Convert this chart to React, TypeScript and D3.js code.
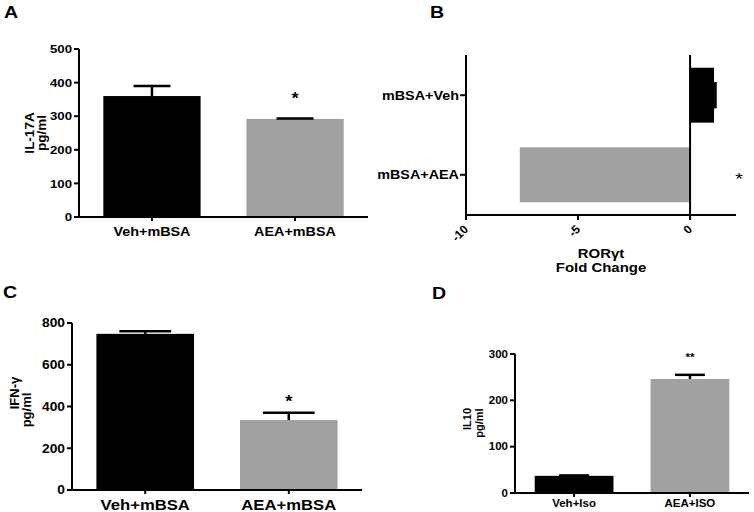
import * as d3 from 'd3';

// panel A – IL-17A
const catsA = ['Veh+mBSA', 'AEA+mBSA'];
const il17 = [360, 292];
const il17Err = [30, 1];
const ticksA = [0, 100, 200, 300, 400, 500];

// panel B – RORγt fold change
const catsB = ['mBSA+Veh', 'mBSA+AEA'];
const rorFold = [1.07, -7.6];
const rorErr = [0.12, 0];
const ticksB = [-10, -5, 0];

// panel C – IFN-γ
const catsC = ['Veh+mBSA', 'AEA+mBSA'];
const ifng = [748, 335];
const ifngErr = [13, 35];
const ticksC = [0, 200, 400, 600, 800];

// panel D – IL10
const catsD = ['Veh+Iso', 'AEA+ISO'];
const il10 = [37, 246];
const il10Err = [1, 9];
const ticksD = [0, 100, 200, 300];

const barColors = ['#000000', '#a1a1a1'];
const FONT = 'Arial, "Liberation Sans", Helvetica, sans-serif';
const SX = 1.15; // source picture is a bit stretched sideways

const T = ({ x, y, size, anchor = 'start', children, weight = 'bold', sx = SX }: any) => (
  <text
    transform={`translate(${x},${y}) scale(${sx},1)`}
    fontSize={size}
    fontWeight={weight}
    fontFamily={FONT}
    textAnchor={anchor}
    fill="#000"
  >
    {children}
  </text>
);

const VLabel = ({ x, y, size, children }: any) => (
  <text
    transform={`translate(${x},${y}) rotate(-90)`}
    fontSize={size}
    fontWeight="bold"
    fontFamily={FONT}
    textAnchor="middle"
    fill="#000"
  >
    {children}
  </text>
);

interface VPanelProps {
  x0: number; x1: number; y0: number; y1: number;
  max: number; ticks: number[]; cats: string[]; values: number[]; errs: number[];
  cap: number; tickFont: number; catFont: number; catDy: number;
  sig: string; sigValue: number; sigFont: number; sigIdx: number;
}

function VPanel(p: VPanelProps) {
  const y = d3.scaleLinear().domain([0, p.max]).range([p.y1, p.y0]);
  const x = d3.scaleBand().domain(p.cats).range([p.x0, p.x1]).paddingInner(0.32).paddingOuter(0.17);
  const bw = x.bandwidth();
  return (
    <g>
      {p.cats.map((c, i) => {
        const cx = x(c)! + bw / 2;
        const v = p.values[i];
        const e = p.errs[i];
        return (
          <g key={c}>
            <rect x={x(c)} y={y(v)} width={bw} height={y(0) - y(v)} fill={barColors[i]} />
            <line x1={cx} x2={cx} y1={y(v)} y2={y(v + e)} stroke="#000" strokeWidth={2.5} />
            <line x1={cx - (bw * p.cap) / 2} x2={cx + (bw * p.cap) / 2} y1={y(v + e)} y2={y(v + e)} stroke="#000" strokeWidth={2.5} />
            <line x1={cx} x2={cx} y1={p.y1} y2={p.y1 + 4} stroke="#000" strokeWidth={2} />
            <T x={cx} y={p.y1 + p.catDy} size={p.catFont} anchor="middle">{c}</T>
          </g>
        );
      })}
      <line x1={p.x0} x2={p.x0} y1={p.y0} y2={p.y1 + 1} stroke="#000" strokeWidth={2} />
      <line x1={p.x0 - 1} x2={p.x1} y1={p.y1} y2={p.y1} stroke="#000" strokeWidth={2} />
      {p.ticks.map((t) => (
        <g key={t}>
          <line x1={p.x0 - 5} x2={p.x0} y1={y(t)} y2={y(t)} stroke="#000" strokeWidth={2} />
          <T x={p.x0 - 7} y={y(t) + p.tickFont * 0.36} size={p.tickFont} anchor="end">{t}</T>
        </g>
      ))}
      <T
        x={x(p.cats[p.sigIdx])! + bw / 2}
        y={y(p.sigValue) + p.sigFont * 0.55}
        size={p.sigFont}
        anchor="middle"
      >
        {p.sig}
      </T>
    </g>
  );
}

function HPanel() {
  const x = d3.scaleLinear().domain([-10, 2.05]).range([466, 736]);
  const y = d3.scaleBand().domain(catsB).range([55, 215]).paddingInner(0.31).paddingOuter(0.16);
  const bw = y.bandwidth();
  return (
    <g>
      {catsB.map((c, i) => {
        const v = rorFold[i];
        const e = rorErr[i];
        const cy = y(c)! + bw / 2;
        return (
          <g key={c}>
            <rect x={x(Math.min(0, v))} y={y(c)} width={Math.abs(x(v) - x(0))} height={bw} fill={barColors[i]} />
            {e > 0 && (
              <rect x={x(v)} y={cy - bw * 0.24} width={x(v + e) - x(v)} height={bw * 0.48} fill="#000" />
            )}
            <line x1={460} x2={466} y1={cy} y2={cy} stroke="#000" strokeWidth={2} />
            <T x={459} y={cy + 4.5} size={12.5} anchor="end">{c}</T>
          </g>
        );
      })}
      <line x1={466} x2={466} y1={55} y2={220} stroke="#000" strokeWidth={2} />
      <line x1={x(0)} x2={x(0)} y1={55} y2={220} stroke="#000" strokeWidth={2} />
      <line x1={466} x2={736} y1={215} y2={215} stroke="#000" strokeWidth={2} />
      {ticksB.map((t) => (
        <g key={t}>
          <line x1={x(t)} x2={x(t)} y1={215} y2={220} stroke="#000" strokeWidth={2} />
          <text
            transform={`translate(${x(t) + 3},${230}) rotate(-45)`}
            fontSize={12}
            fontWeight="bold"
            fontFamily={FONT}
            textAnchor="end"
          >
            {t}
          </text>
        </g>
      ))}
      <T x={739} y={185} size={17} anchor="middle" weight="normal">*</T>
      <T x={601} y={258} size={13} anchor="middle">RORγt</T>
      <T x={601} y={272} size={13} anchor="middle">Fold Change</T>
    </g>
  );
}

export default function App() {
  return (
    <svg
      width={754}
      height={512}
      viewBox="0 0 754 512"
      style={{ position: 'absolute', left: 0, top: 0, background: '#fff' }}
    >
      <rect width={754} height={512} fill="#fff" />

      <T x={4} y={18} size={17}>A</T>
      <VPanel
        x0={79} x1={368} y0={49} y1={217}
        max={500} ticks={ticksA} cats={catsA} values={il17} errs={il17Err}
        cap={0.38} tickFont={11.5} catFont={12.5} catDy={19}
        sig="*" sigValue={363} sigFont={16} sigIdx={1}
      />
      <VLabel x={34} y={133} size={13.5}>IL-17A</VLabel>
      <VLabel x={46} y={133} size={13.5}>pg/ml</VLabel>

      <T x={430} y={18} size={17}>B</T>
      <HPanel />

      <T x={3} y={298} size={17}>C</T>
      <VPanel
        x0={72} x1={362} y0={323} y1={490}
        max={800} ticks={ticksC} cats={catsC} values={ifng} errs={ifngErr}
        cap={0.53} tickFont={12} catFont={14.5} catDy={20}
        sig="*" sigValue={440} sigFont={16} sigIdx={1}
      />
      <VLabel x={19} y={393} size={13}>IFN-γ</VLabel>
      <VLabel x={31} y={410} size={13}>pg/ml</VLabel>

      <T x={432} y={299} size={17}>D</T>
      <VPanel
        x0={515} x1={749} y0={354} y1={493}
        max={300} ticks={ticksD} cats={catsD} values={il10} errs={il10Err}
        cap={0.38} tickFont={10} catFont={10} catDy={14}
        sig="**" sigValue={296} sigFont={10} sigIdx={1}
      />
      <VLabel x={471} y={419} size={11}>IL10</VLabel>
      <VLabel x={483} y={423} size={11}>pg/ml</VLabel>
    </svg>
  );
}
